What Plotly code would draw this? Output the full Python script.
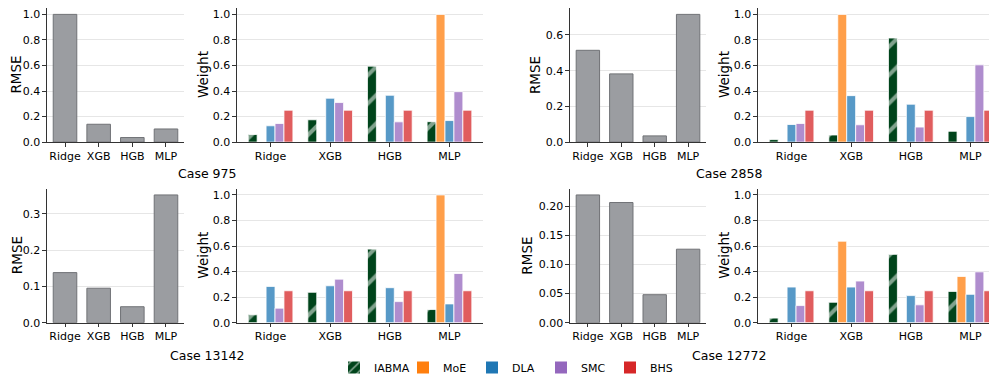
import plotly.graph_objects as go

# ---------------- data ----------------
models = ["Ridge", "XGB", "HGB", "MLP"]
methods = ["IABMA", "MoE", "DLA", "SMC", "BHS"]
case_titles = ["Case 975", "Case 2858", "Case 13142", "Case 12772"]

rmse_975 = [1.0, 0.14, 0.036, 0.103]
rmse_2858 = [0.514, 0.382, 0.035, 0.715]
rmse_13142 = [0.138, 0.095, 0.044, 0.352]
rmse_12772 = [0.219, 0.206, 0.048, 0.126]

iabma_975 = [0.06, 0.175, 0.595, 0.16]
moe_975 = [0.0, 0.0, 0.0, 1.0]
dla_975 = [0.128, 0.344, 0.367, 0.169]
smc_975 = [0.146, 0.31, 0.159, 0.395]
bhs_975 = [0.25, 0.25, 0.25, 0.25]

iabma_2858 = [0.02, 0.056, 0.815, 0.085]
moe_2858 = [0.0, 1.0, 0.0, 0.0]
dla_2858 = [0.138, 0.364, 0.297, 0.2]
smc_2858 = [0.146, 0.136, 0.118, 0.605]
bhs_2858 = [0.25, 0.25, 0.25, 0.25]

iabma_13142 = [0.062, 0.238, 0.576, 0.103]
moe_13142 = [0.0, 0.0, 0.0, 1.0]
dla_13142 = [0.284, 0.289, 0.274, 0.147]
smc_13142 = [0.114, 0.341, 0.165, 0.385]
bhs_13142 = [0.25, 0.25, 0.25, 0.25]

iabma_12772 = [0.036, 0.16, 0.535, 0.245]
moe_12772 = [0.0, 0.638, 0.0, 0.362]
dla_12772 = [0.279, 0.279, 0.212, 0.222]
smc_12772 = [0.134, 0.326, 0.14, 0.398]
bhs_12772 = [0.25, 0.25, 0.25, 0.25]

rmse_all = [rmse_975, rmse_2858, rmse_13142, rmse_12772]
weights_all = [
    [iabma_975, moe_975, dla_975, smc_975, bhs_975],
    [iabma_2858, moe_2858, dla_2858, smc_2858, bhs_2858],
    [iabma_13142, moe_13142, dla_13142, smc_13142, bhs_13142],
    [iabma_12772, moe_12772, dla_12772, smc_12772, bhs_12772],
]

# ---------------- style ----------------
W, H = 997, 374
FONT = "DejaVu Sans"
bar_colors = ["#00441b", "#ff9f4a", "#5799c7", "#af8dce", "#e05d5e"]
legend_colors = ["#00441b", "#ff7f0e", "#1f77b4", "#9467bd", "#d62728"]
AX = "#333333"
TICK = 11

def xd(a, b):
    return [a / W, b / W]

def yd(top, bot):
    return [1 - bot / H, 1 - top / H]

col_x = [([39, 176], [229, 475]), ([562, 698], [750, 996])]
row_y = [[0, 136.7], [184, 320.7]]
rmse_ticks = [
    ([0, 0.2, 0.4, 0.6, 0.8, 1.0], ".1f"),
    ([0, 0.2, 0.4, 0.6], ".1f"),
    ([0, 0.1, 0.2, 0.3], ".1f"),
    ([0, 0.05, 0.10, 0.15, 0.20], ".2f"),
]
rmse_label_x = [8.5, 527, 8.5, 519]
weight_label_x = [195, 716, 195, 716]
case_x = [199, 721, 199, 721]

fig = go.Figure()
layout = dict(
    width=W, height=H, margin=dict(l=0, r=0, t=0, b=0),
    paper_bgcolor="white", plot_bgcolor="white",
    barmode="group", bargap=0.25, bargroupgap=0.0,
    font=dict(family=FONT, size=TICK, color="black"),
    showlegend=True,
)
annotations = []

def xaxis_style(dom, anchor, rng):
    return dict(domain=dom, anchor=anchor, type="category",
                categoryorder="array", categoryarray=models, range=rng,
                showline=True, linecolor=AX, linewidth=1.2, ticks="outside",
                ticklen=3.5, tickwidth=1, tickcolor=AX, showgrid=False,
                zeroline=False, tickfont=dict(size=TICK, family=FONT, color="black"))

def yaxis_style(dom, anchor, rng, tickvals, fmt):
    return dict(domain=dom, anchor=anchor, range=rng, tickvals=tickvals,
                tickformat=fmt, showline=True, linecolor=AX, linewidth=1.2,
                ticks="outside", ticklen=3.5, tickwidth=1, tickcolor=AX,
                showgrid=True, gridcolor="#e6e6e6", gridwidth=0.8,
                zeroline=False, tickfont=dict(size=TICK, family=FONT, color="black"))

for i in range(4):
    r, c = divmod(i, 2)
    ra, wa = 2 * i + 1, 2 * i + 2
    rx, wx = col_x[c]
    ydom = yd(*row_y[r])
    rvals = rmse_all[i]
    rtop = max(rvals) * 1.05

    layout[f"xaxis{ra}"] = xaxis_style(xd(*rx), f"y{ra}", [-0.535, 3.535])
    layout[f"yaxis{ra}"] = yaxis_style(ydom, f"x{ra}", [0, rtop], *rmse_ticks[i])
    layout[f"xaxis{wa}"] = xaxis_style(xd(*wx), f"y{wa}", [-0.5625, 3.5625])
    layout[f"yaxis{wa}"] = yaxis_style(ydom, f"x{wa}", [0, 1.05],
                                       [0, 0.2, 0.4, 0.6, 0.8, 1.0], ".1f")

    fig.add_trace(go.Bar(
        x=models, y=rvals, width=0.7, showlegend=False,
        marker=dict(color="#9b9da1", line=dict(color="#707276", width=1)),
        xaxis=f"x{ra}", yaxis=f"y{ra}", hoverinfo="x+y"))

    for k, m in enumerate(methods):
        marker = dict(color=bar_colors[k], line=dict(color="white", width=0.8))
        if k == 0:
            marker["pattern"] = dict(shape="/", fgcolor="white", size=20, solidity=0.2)
        fig.add_trace(go.Bar(
            x=models, y=weights_all[i][k], name=m, showlegend=False,
            marker=marker, xaxis=f"x{wa}", yaxis=f"y{wa}"))

    ycenter = 1 - (row_y[r][0] + row_y[r][1]) / 2 / H
    annotations.append(dict(text="RMSE", x=rmse_label_x[i] / W, y=ycenter, xref="paper", yref="paper",
                            textangle=-90, showarrow=False, xanchor="center", yanchor="middle",
                            font=dict(size=13.5, family=FONT, color="black")))
    annotations.append(dict(text="Weight", x=weight_label_x[i] / W, y=ycenter, xref="paper", yref="paper",
                            textangle=-90, showarrow=False, xanchor="center", yanchor="middle",
                            font=dict(size=13.5, family=FONT, color="black")))
    ty = 169 if r == 0 else 354
    annotations.append(dict(text=case_titles[i], x=case_x[i] / W, y=1 - ty / H, xref="paper", yref="paper",
                            showarrow=False, xanchor="center", yanchor="middle",
                            font=dict(size=12.5, family=FONT, color="black")))

# legend-only traces (full colours) on a hidden axis
layout["xaxis9"] = dict(domain=[0, 0.001], anchor="y9", visible=False)
layout["yaxis9"] = dict(domain=[0, 0.001], anchor="x9", visible=False)
for k, m in enumerate(methods):
    marker = dict(color=legend_colors[k], line=dict(color="white", width=0))
    if k == 0:
        marker["pattern"] = dict(shape="/", fgcolor="white", size=8, solidity=0.25)
    fig.add_trace(go.Bar(x=[None], y=[None], name=m, marker=marker,
                         xaxis="x9", yaxis="y9", showlegend=True))

layout["legend"] = dict(orientation="h", x=0.5, xanchor="center", y=-0.02, yanchor="bottom",
                        font=dict(size=11, family=FONT, color="black"),
                        itemwidth=30, entrywidth=24, entrywidthmode="pixels",
                        bgcolor="rgba(0,0,0,0)", traceorder="normal")
layout["annotations"] = annotations
fig.update_layout(**layout)
fig.write_html("out.html")
